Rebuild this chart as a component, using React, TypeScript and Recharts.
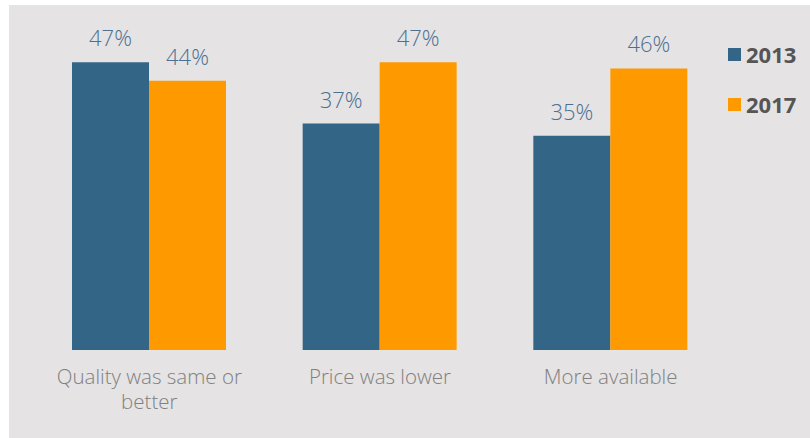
import { BarChart, Bar, XAxis, YAxis, LabelList } from 'recharts';

const categories = ['Quality was same or better', 'Price was lower', 'More available'];
const values2013 = [47, 37, 35];
const values2017 = [44, 47, 46];
const seriesNames = ['2013', '2017'];
const seriesColors = ['#336587', '#ff9900'];

const data = categories.map((name, i) => ({
  name,
  y2013: values2013[i],
  y2017: values2017[i]
}));

const FONT = '"Open Sans", "DejaVu Sans", sans-serif';

// greedy wrap by character count, the axis labels are short
function wrap(label: string, maxChars: number) {
  const lines: string[] = [];
  let cur = '';
  for (const w of label.split(' ')) {
    if (cur && (cur + ' ' + w).length > maxChars) {
      lines.push(cur);
      cur = w;
    } else {
      cur = cur ? cur + ' ' + w : w;
    }
  }
  if (cur) lines.push(cur);
  return lines;
}

function CategoryTick(props: any) {
  const { x, y, payload } = props;
  const lines = wrap(String(payload.value), 20);
  return (
    <text
      x={x}
      y={y + 34}
      textAnchor="middle"
      fontSize={20.5}
      fontFamily={FONT}
      fontWeight={300}
      fill="#808080"
    >
      {lines.map((l, i) => (
        <tspan key={i} x={x} dy={i === 0 ? 0 : 25}>
          {l}
        </tspan>
      ))}
    </text>
  );
}

const labelStyle = { fontSize: 22, fontFamily: FONT, fontWeight: 300, fill: '#4b7092' };

export default function App() {
  return (
    <div style={{ position: 'absolute', left: 0, top: 0, width: 810, height: 438, background: '#ffffff' }}>
      <div style={{ position: 'absolute', left: 9, top: 5, width: 801, height: 433, background: '#e5e3e4' }} />
      <div style={{ position: 'absolute', left: 0, top: 0 }}>
        <BarChart
          width={810}
          height={438}
          data={data}
          margin={{ top: 44, right: 84, bottom: 28, left: 34 }}
          barCategoryGap={38}
          barGap={0}
        >
          <XAxis
            dataKey="name"
            axisLine={false}
            tickLine={false}
            tickSize={0}
            tickMargin={0}
            height={60}
            interval={0}
            tick={<CategoryTick />}
          />
          <YAxis hide domain={[0, 50]} />
          <Bar dataKey="y2013" fill={seriesColors[0]} isAnimationActive={false}>
            <LabelList dataKey="y2013" position="top" offset={16} formatter={(v: any) => `${v}%`} style={labelStyle} />
          </Bar>
          <Bar dataKey="y2017" fill={seriesColors[1]} isAnimationActive={false}>
            <LabelList dataKey="y2017" position="top" offset={16} formatter={(v: any) => `${v}%`} style={labelStyle} />
          </Bar>
        </BarChart>
      </div>
      {seriesNames.map((name, i) => (
        <div
          key={name}
          style={{
            position: 'absolute',
            left: 728,
            top: 40 + i * 50,
            height: 28,
            display: 'flex',
            alignItems: 'center',
            fontFamily: FONT,
            fontWeight: 700,
            fontSize: 22,
            color: '#555555'
          }}
        >
          <span style={{ display: 'inline-block', width: 13, height: 13, background: seriesColors[i], marginRight: 5 }} />
          {name}
        </div>
      ))}
    </div>
  );
}
